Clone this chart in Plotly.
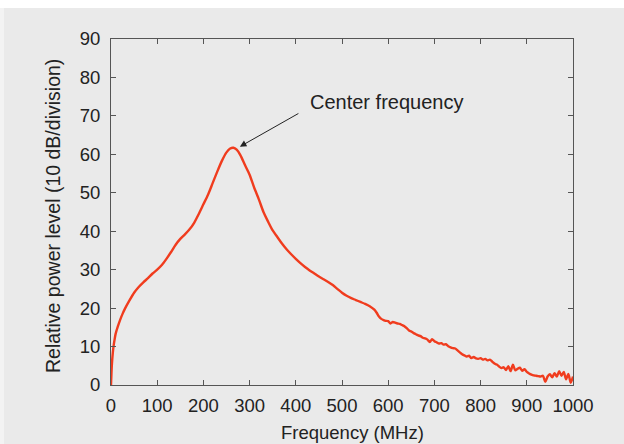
import plotly.graph_objects as go

freq_mhz = [0, 1, 2, 4, 6, 8, 10, 15, 20, 25, 30, 40, 50, 60, 70, 80, 90, 100,
            110, 120, 130, 140, 150, 160, 170, 180, 190, 200, 210, 220, 230, 240,
            250, 258, 265, 272, 280, 290, 300, 310, 320, 330, 340, 350, 360, 370,
            380, 390, 400, 410, 420, 430, 440, 450, 460, 470, 480, 490, 500, 510,
            520, 530, 540, 550, 560, 570, 575, 580, 585, 590, 595, 600, 605, 610,
            615, 620, 625, 630, 635, 640, 645, 650, 655, 660, 665, 670, 675, 680,
            685, 690, 695, 700, 705, 710, 715, 720, 725, 730, 735, 740, 745, 750,
            755, 760, 765, 770, 775, 780, 785, 790, 795, 800, 805, 810, 815, 820,
            825, 830, 835, 840, 845, 850, 855, 860, 865, 870, 875, 880, 885, 890,
            895, 900, 905, 910, 915, 920, 925, 930, 935, 940, 945, 950, 955, 960,
            965, 970, 975, 980, 985, 990, 995, 1000]

power_db = [0, 3, 5.5, 8.5, 10.5, 12, 13.3, 15.3, 17, 18.5, 19.8, 22, 24, 25.5,
            26.7, 27.8, 29, 30, 31.2, 32.8, 34.6, 36.5, 38, 39.2, 40.5, 42.2, 44.5,
            47, 49.5, 52.5, 55.5, 58.3, 60.5, 61.5, 61.7, 61.2, 59.8, 57.2, 54.7,
            51.3, 48.3, 45, 42.5, 40.2, 38.5, 36.8, 35.3, 34, 32.8, 31.7, 30.7,
            29.8, 29, 28.2, 27.5, 26.8, 26, 25, 24, 23.2, 22.6, 22.1, 21.6, 21.1,
            20.5, 19.6, 18.8, 17.8, 17.2, 16.9, 16.7, 16.6, 16.0, 16.4, 16.2, 16.0,
            15.9, 15.6, 15.3, 14.8, 14.2, 13.9, 13.5, 13.2, 12.9, 12.7, 12.3, 12.1,
            11.8, 11.2, 11.9, 11.4, 11.1, 10.8, 10.9, 10.5, 10.6, 10.1, 9.8, 9.6,
            9.5, 9.0, 8.5, 8.0, 7.7, 7.4, 7.6, 7.0, 7.3, 6.9, 6.8, 7.0, 6.6, 6.8,
            6.4, 6.6, 6.1, 5.6, 5.3, 4.8, 4.4, 4.6, 3.9, 4.9, 3.6, 5.3, 3.8, 4.2,
            4.5, 3.7, 4.1, 3.4, 3.0, 2.7, 2.5, 2.4, 2.3, 2.2, 2.4, 0.8, 2.2, 2.8,
            2.0, 3.1, 2.2, 3.6, 2.4, 3.4, 1.5, 2.9, 0.6, 2.2]

x_ticks = [0, 100, 200, 300, 400, 500, 600, 700, 800, 900, 1000]
y_ticks = [0, 10, 20, 30, 40, 50, 60, 70, 80, 90]

peak_f, peak_v = 279, 62
label_f, label_v = 597, 73.6

FONT = "Liberation Sans, Arial, Helvetica, sans-serif"
BG = "#eaeaea"
AX = "#555555"

fig = go.Figure()
fig.add_trace(go.Scatter(x=freq_mhz, y=power_db, mode="lines",
                         line=dict(color="#f03c1e", width=2.4, shape="spline",
                                   smoothing=0.7),
                         showlegend=False, hoverinfo="skip"))

axis_common = dict(showline=True, linecolor=AX, linewidth=1, mirror="ticks",
                   ticks="inside", ticklen=5, tickwidth=1, tickcolor=AX,
                   showgrid=False, zeroline=False,
                   tickfont=dict(family=FONT, size=18.5, color="#222"))

PW, PH = 462, 346  # plot box size in px (111..573 x 39..385)

fig.update_layout(
    width=624, height=444,
    margin=dict(l=111, r=51, t=39, b=59),
    paper_bgcolor=BG, plot_bgcolor=BG,
    xaxis=dict(range=[0, 1000], tickvals=x_ticks, ticklabelstandoff=4, **axis_common),
    yaxis=dict(range=[0, 90], tickvals=y_ticks, ticklabelstandoff=6, **axis_common),
    shapes=[
        dict(type="rect", xref="paper", yref="paper", x0=-0.5, x1=1.5,
             y0=1 + 31 / PH, y1=1.3, fillcolor="white", line=dict(width=0),
             layer="above"),
        dict(type="rect", xref="paper", yref="paper", x0=-0.5, x1=-107 / PW,
             y0=-0.3, y1=1 + 31 / PH, fillcolor="#f3f3f3", line=dict(width=0),
             layer="above"),
    ],
    annotations=[
        dict(x=peak_f, y=peak_v, xref="x", yref="y", text="", showarrow=True,
             ax=60, ay=-34, arrowhead=2, arrowsize=1.3, arrowwidth=1,
             arrowcolor="#222"),
        dict(x=label_f, y=label_v, xref="x", yref="y", text="Center frequency",
             showarrow=False, font=dict(family=FONT, size=20, color="#222")),
        dict(x=(352 - 111) / PW, y=-(432 - 385) / PH, xref="paper", yref="paper",
             text="Frequency (MHz)", showarrow=False, xanchor="center",
             yanchor="middle", font=dict(family=FONT, size=18.5, color="#222")),
        dict(x=-(111 - 53) / PW, y=(385 - 216) / PH, xref="paper", yref="paper",
             text="Relative power level (10 dB/division)", showarrow=False,
             textangle=-90, xanchor="center", yanchor="middle",
             font=dict(family=FONT, size=19.5, color="#222")),
    ],
)

fig.write_html("out.html", config={"displayModeBar": False},
               post_script="document.body.style.margin='0';")
